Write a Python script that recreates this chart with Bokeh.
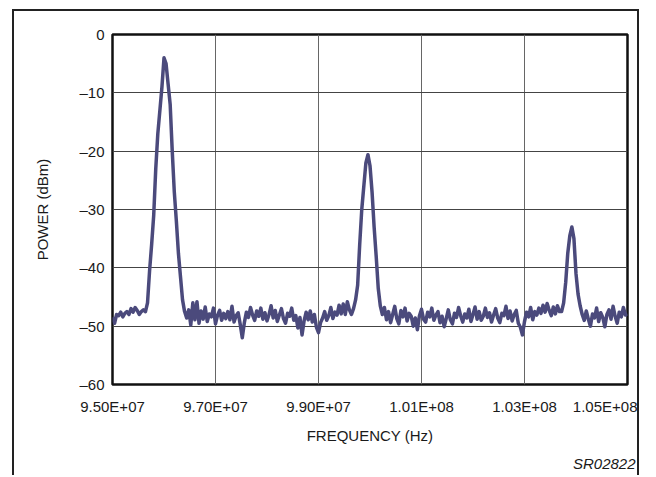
import numpy as np
from bokeh.plotting import figure
from bokeh.models import Range1d, FixedTicker, Title, ColumnDataSource
from bokeh.embed import file_html
from bokeh.resources import INLINE

# ---- sweep settings (spectrum analyser, 251 points from 95 MHz to 105 MHz)
sweep_start_hz = 95_000_000
sweep_stop_hz = 105_000_000
sweep_points = 251

noise_a = [-48.5, -49.5, -48.0, -48.2, -47.6, -48.4, -47.8, -47.5, -48.0, -47.0,
           -47.6, -46.8, -47.3, -48.0, -47.5, -47.2]
peak_96 = [-47.5, -46.0, -40.5, -36.0, -31.0, -23.0, -17.0, -13.0, -9.0, -4.0,
           -5.0, -8.5, -12.0, -20.0, -27.0, -32.0, -37.5, -41.5, -45.5, -47.5]
noise_b = [-48.6, -47.2, -49.8, -46.0, -48.9, -45.8, -49.5, -47.4, -48.8, -46.7,
           -49.2, -47.9, -48.4, -46.9, -49.6, -48.1, -47.3, -49.0, -47.8, -48.7,
           -47.5, -48.9, -46.6, -49.3, -48.2, -47.7, -49.7, -52.0, -49.4, -47.6,
           -48.5, -46.8, -48.1, -49.0, -47.4, -48.3, -46.9, -48.8, -47.7, -49.1,
           -48.0, -46.5, -48.6, -47.3, -49.2, -48.1, -47.0, -48.7, -49.5, -47.8,
           -48.3, -46.9, -49.0, -48.2, -50.3, -48.5, -51.5, -49.1, -47.6, -48.9,
           -47.4, -49.3, -48.0, -50.2, -51.1, -49.4, -48.6, -47.5, -49.0, -48.2,
           -46.8, -48.7, -47.6, -48.1, -46.4, -47.9, -46.2, -48.0, -45.8, -47.2]
peak_100 = [-48.0, -47.0, -45.5, -43.0, -36.0, -30.0, -26.0, -22.0, -20.6, -22.5,
            -27.0, -33.0, -38.0, -43.5, -46.5, -48.0]
noise_c = [-46.8, -48.9, -47.5, -49.4, -48.0, -46.6, -48.7, -49.6, -47.3, -48.4,
           -46.9, -49.1, -47.8, -48.3, -50.0, -48.6, -50.6, -48.2, -47.1, -48.8,
           -49.3, -47.6, -48.4, -46.9, -49.0, -48.1, -47.5, -49.4, -48.3, -50.1,
           -48.7, -47.2, -48.9, -49.6, -47.8, -48.5, -46.8, -48.2, -49.3, -47.9,
           -48.6, -47.1, -49.2, -48.0, -46.7, -48.8, -47.5, -49.0, -48.3, -46.9,
           -48.5, -47.7, -49.3, -48.1, -47.0, -48.6, -49.4, -47.8, -48.2, -46.6,
           -48.7, -47.4, -49.1, -48.0, -47.3, -49.5, -50.2, -51.5, -49.2, -47.6,
           -48.4, -46.8, -48.9, -47.5, -48.1, -46.9, -47.8, -46.4, -47.6, -46.1,
           -47.3, -48.2, -46.7, -47.9, -46.5, -47.5]
peak_104 = [-47.5, -46.0, -42.5, -37.5, -34.5, -33.0, -35.0, -41.0, -44.5, -46.5,
            -48.0]
noise_d = [-49.0, -47.4, -48.8, -50.0, -47.9, -48.6, -46.9, -49.2, -47.7, -48.5,
           -50.1, -48.0, -47.2, -48.8, -46.6, -48.3, -49.5, -47.6, -48.4, -46.8,
           -48.1, -47.9]

power_dbm = noise_a + peak_96 + noise_b + peak_100 + noise_c + peak_104 + noise_d
freq_hz = np.linspace(sweep_start_hz, sweep_stop_hz, sweep_points)

# ---- axes
x_ticks = [95_000_000, 97_000_000, 99_000_000, 101_000_000, 103_000_000, 105_000_000]
x_tick_labels = ["9.50E+07", "9.70E+07", "9.90E+07", "1.01E+08", "1.03E+08", "1.05E+08"]
y_ticks = [0, -10, -20, -30, -40, -50, -60]
y_tick_labels = ["0", "\u201310", "\u201320", "\u201330", "\u201340", "\u201350", "\u201360"]

FONT = "Liberation Sans"
INK = "#1a1a1a"

p = figure(width=627, height=466,
           x_range=Range1d(sweep_start_hz, sweep_stop_hz),
           y_range=Range1d(-60, 0),
           output_backend="svg", toolbar_location=None,
           min_border_left=98, min_border_right=14,
           min_border_top=23, min_border_bottom=90)
# outer panel frame (open at the bottom edge of the page)
p.styles = {"border-left": "2px solid #222", "border-top": "2px solid #222",
            "border-right": "2px solid #222", "margin-left": "12px", "margin-top": "9px"}

p.outline_line_color = "#111111"
p.outline_line_width = 2.5
p.background_fill_color = "white"
p.border_fill_color = "white"

src = ColumnDataSource(dict(f=freq_hz, pw=power_dbm))
p.line("f", "pw", source=src, line_color="#4b4a7c", line_width=3.5, line_join="round")

p.xaxis.ticker = FixedTicker(ticks=x_ticks)
p.xaxis.major_label_overrides = dict(zip(x_ticks, x_tick_labels))
p.xaxis.axis_label = "FREQUENCY (Hz)"
p.yaxis.ticker = FixedTicker(ticks=y_ticks)
p.yaxis.major_label_overrides = dict(zip(y_ticks, y_tick_labels))
p.yaxis.axis_label = "POWER (dBm)"

for ax in (p.xaxis[0], p.yaxis[0]):
    ax.axis_line_color = None
    ax.major_tick_line_color = None
    ax.minor_tick_line_color = None
    ax.major_tick_out = 0
    ax.major_tick_in = 0
    ax.major_label_text_font = FONT
    ax.major_label_text_font_size = "15px"
    ax.major_label_text_color = INK
    ax.axis_label_text_font = FONT
    ax.axis_label_text_font_size = "15px"
    ax.axis_label_text_font_style = "normal"
    ax.axis_label_text_color = INK

p.xaxis.major_label_standoff = 13
p.xaxis.axis_label_standoff = 9
p.yaxis.major_label_standoff = 8
p.yaxis.axis_label_standoff = 25

p.xgrid.grid_line_color = "#666666"
p.ygrid.grid_line_color = "#444444"
p.xgrid.grid_line_width = 1
p.ygrid.grid_line_width = 1

tag = Title(text="SR02822", align="right", text_font=FONT, text_font_size="15px",
            text_font_style="italic", text_color=INK, standoff=12, offset=-8)
p.add_layout(tag, "below")

open("out.html", "w").write(file_html(p, INLINE))
